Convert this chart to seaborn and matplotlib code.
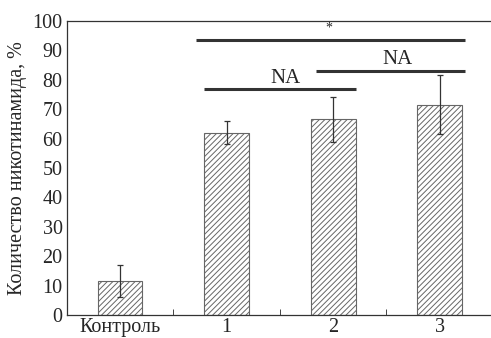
import seaborn as sns
import matplotlib.pyplot as plt
import pandas as pd

groups = ["Контроль", "1", "2", "3"]
values = [11.5, 62.0, 66.5, 71.5]
errors = [5.5, 4.0, 7.5, 10.0]

sns.set_style("ticks")
plt.rcParams['font.family'] = ['Liberation Serif', 'DejaVu Serif']
plt.rcParams['hatch.linewidth'] = 0.7

df = pd.DataFrame({"group": groups, "value": values})

fig = plt.figure(figsize=(4.91, 3.38), dpi=100)
ax = fig.add_axes([0.136, 0.068, 0.868, 0.87])
sns.barplot(data=df, x="group", y="value", ax=ax, color="white",
            edgecolor="#666666", linewidth=0.8, width=0.42, hatch="//////",
            errorbar=None)
ax.errorbar(range(len(groups)), values, yerr=errors, fmt="none",
            ecolor="#333333", elinewidth=0.9, capsize=2.5, capthick=0.9)

# significance brackets
ax.plot([0.71, 3.24], [93.5, 93.5], color="#333333", lw=2.2, solid_capstyle="butt")
ax.text(1.96, 95.3, "*", ha="center", va="bottom", fontsize=10)
ax.plot([0.79, 2.21], [77, 77], color="#333333", lw=2.2, solid_capstyle="butt")
ax.text(1.55, 79, "NA", ha="center", va="baseline", fontsize=15)
ax.plot([1.84, 3.24], [83, 83], color="#333333", lw=2.2, solid_capstyle="butt")
ax.text(2.6, 85.2, "NA", ha="center", va="baseline", fontsize=15)

ax.set_xlim(-0.5, 3.5)
ax.set_ylim(0, 100)
ax.set_yticks(range(0, 101, 10))
ax.set_xlabel("")
ax.set_ylabel("Количество никотинамида, %", fontsize=14.5, labelpad=4)
ax.set_xticks([0.5, 1.5, 2.5], minor=True)
ax.set_xticks(range(len(groups)))
ax.set_xticklabels(groups)
ax.tick_params(axis="x", which="major", length=0, labelsize=14.5, pad=2)
ax.tick_params(axis="x", which="minor", direction="in", length=4, width=0.6)
ax.tick_params(axis="y", length=0, labelsize=14.5, pad=3)
for s in ["left", "bottom", "top"]:
    ax.spines[s].set_color("#333333")
    ax.spines[s].set_linewidth(0.9)
ax.spines["right"].set_visible(False)

fig.savefig("out.png", dpi=100)
